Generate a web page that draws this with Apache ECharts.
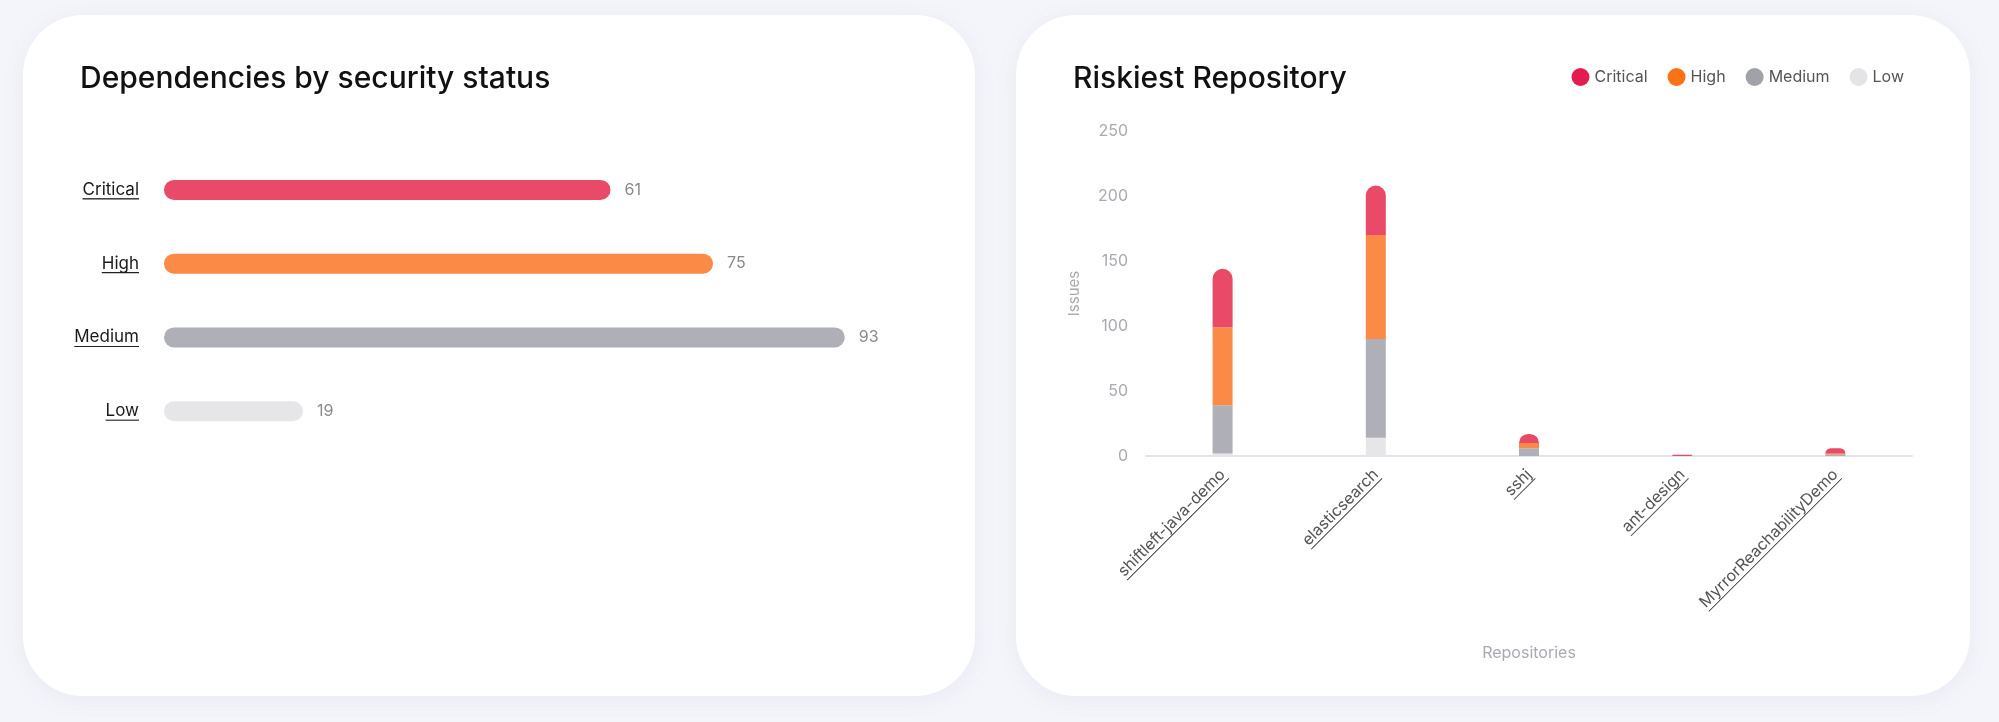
<!DOCTYPE html>
<html>
<head>
<meta charset="utf-8">
<script src="https://cdn.jsdelivr.net/npm/echarts@6/dist/echarts.min.js"></script>
<style>
  html, body { margin: 0; padding: 0; background: #f4f5fa; width: 1999px; height: 722px; overflow: hidden; }
  .card { position: absolute; top: 15px; height: 681px; background: #fff; border-radius: 60px;
          box-shadow: 0 4px 22px rgba(110, 120, 170, 0.08); overflow: hidden; }
  #c1 { left: 23px; width: 952px; }
  #c2 { left: 1016px; width: 954px; }
</style>
</head>
<body>
<div class="card" id="c1"></div>
<div class="card" id="c2"></div>
<script>
// ---- Data ----
const statusCategories = ['Critical', 'High', 'Medium', 'Low'];
const statusValues = [61, 75, 93, 19];

const repositories = ['shiftleft-java-demo', 'elasticsearch', 'sshj', 'ant-design', 'MyrrorReachabilityDemo'];
const criticalIssues = [45, 38, 7, 1, 4];
const highIssues = [60, 80, 4, 0, 1];
const mediumIssues = [37, 76, 6, 0, 1];
const lowIssues = [2, 14, 0, 0, 0];
const issueTicks = [0, 50, 100, 150, 200, 250];

// ---- Styles ----
const barColors = { Critical: '#e84a67', High: '#fb8a47', Medium: '#afafb8', Low: '#e6e6e9' };
const legendColors = { Critical: '#e31b4f', High: '#f97316', Medium: '#a1a1aa', Low: '#e4e4e7' };
const FONT = 'Inter, "Noto Sans", sans-serif';

function underlineImage(color) {
  const c = document.createElement('canvas');
  c.width = 4; c.height = 36;
  const ctx = c.getContext('2d');
  ctx.fillStyle = color;
  ctx.fillRect(0, 34, 4, 2);
  return c;
}

// ---- Chart 1 ----
const chart1 = echarts.init(document.getElementById('c1'), null, { renderer: 'canvas' });
chart1.setOption({
  animation: false,
  title: {
    text: 'Dependencies by security status', left: 52, top: 44,
    textStyle: { fontFamily: FONT, fontSize: 30, fontWeight: 500, color: '#111' }
  },
  grid: { left: 141, top: 138, width: 732, height: 295 },
  xAxis: { type: 'value', min: 0, max: 100, show: false },
  yAxis: {
    type: 'category', inverse: true, data: statusCategories,
    axisLine: { show: false }, axisTick: { show: false },
    axisLabel: {
      margin: 25,
      formatter: v => '{u|' + v + '}',
      rich: {
        u: { fontFamily: FONT, fontSize: 17, color: '#1a1a1a', height: 19, lineHeight: 19,
             backgroundColor: { image: underlineImage('#222') } }
      }
    }
  },
  series: [{
    type: 'bar', barWidth: 20,
    data: statusValues.map((v, i) => ({ value: v, itemStyle: { color: barColors[statusCategories[i]] } })),
    itemStyle: { borderRadius: 10 },
    label: { show: true, position: 'right', distance: 14, fontFamily: FONT, fontSize: 16, color: '#8a8a8a' }
  }]
});

// ---- Chart 2 ----
const chart2 = echarts.init(document.getElementById('c2'), null, { renderer: 'canvas' });
const seriesDefs = [
  ['Low', lowIssues], ['Medium', mediumIssues], ['High', highIssues], ['Critical', criticalIssues]
];
chart2.setOption({
  animation: false,
  title: {
    text: 'Riskiest Repository', left: 52, top: 44,
    textStyle: { fontFamily: FONT, fontSize: 30, fontWeight: 500, color: '#111' }
  },
  legend: {
    right: 61, top: 48, icon: 'circle', itemWidth: 18, itemHeight: 18, itemGap: 20,
    textStyle: { fontFamily: FONT, fontSize: 16, color: '#555' },
    data: ['Critical', 'High', 'Medium', 'Low'].map(n => ({ name: n, itemStyle: { color: legendColors[n] } }))
  },
  grid: { left: 130, right: 58, top: 116, bottom: 240 },
  xAxis: {
    type: 'category', data: repositories,
    name: 'Repositories', nameLocation: 'middle', nameGap: 189,
    nameTextStyle: { fontFamily: FONT, fontSize: 16, color: '#a9a9b2' },
    axisLine: { lineStyle: { color: '#e4e4e8', width: 2 } },
    axisTick: { show: false },
    axisLabel: {
      rotate: 45, margin: 16, interval: 0,
      formatter: v => '{u|' + v + '}',
      rich: {
        u: { fontFamily: FONT, fontSize: 16, color: '#555', height: 19, lineHeight: 19,
             backgroundColor: { image: underlineImage('#555') } }
      }
    }
  },
  yAxis: {
    type: 'value', min: 0, max: 250, interval: 50,
    name: 'Issues', nameLocation: 'middle', nameGap: 64,
    nameTextStyle: { fontFamily: FONT, fontSize: 15, color: '#a9a9b2' },
    axisLine: { show: false }, axisTick: { show: false }, splitLine: { show: false },
    axisLabel: { margin: 18, fontFamily: FONT, fontSize: 16, color: '#a9a9b2',
                 formatter: v => issueTicks.includes(v) ? String(v) : '' }
  },
  series: seriesDefs.map(([name, data]) => ({
    name, type: 'bar', stack: 'total', barWidth: 20, data,
    itemStyle: { color: barColors[name], borderRadius: name === 'Critical' ? [10, 10, 0, 0] : 0 }
  }))
});
</script>
</body>
</html>
